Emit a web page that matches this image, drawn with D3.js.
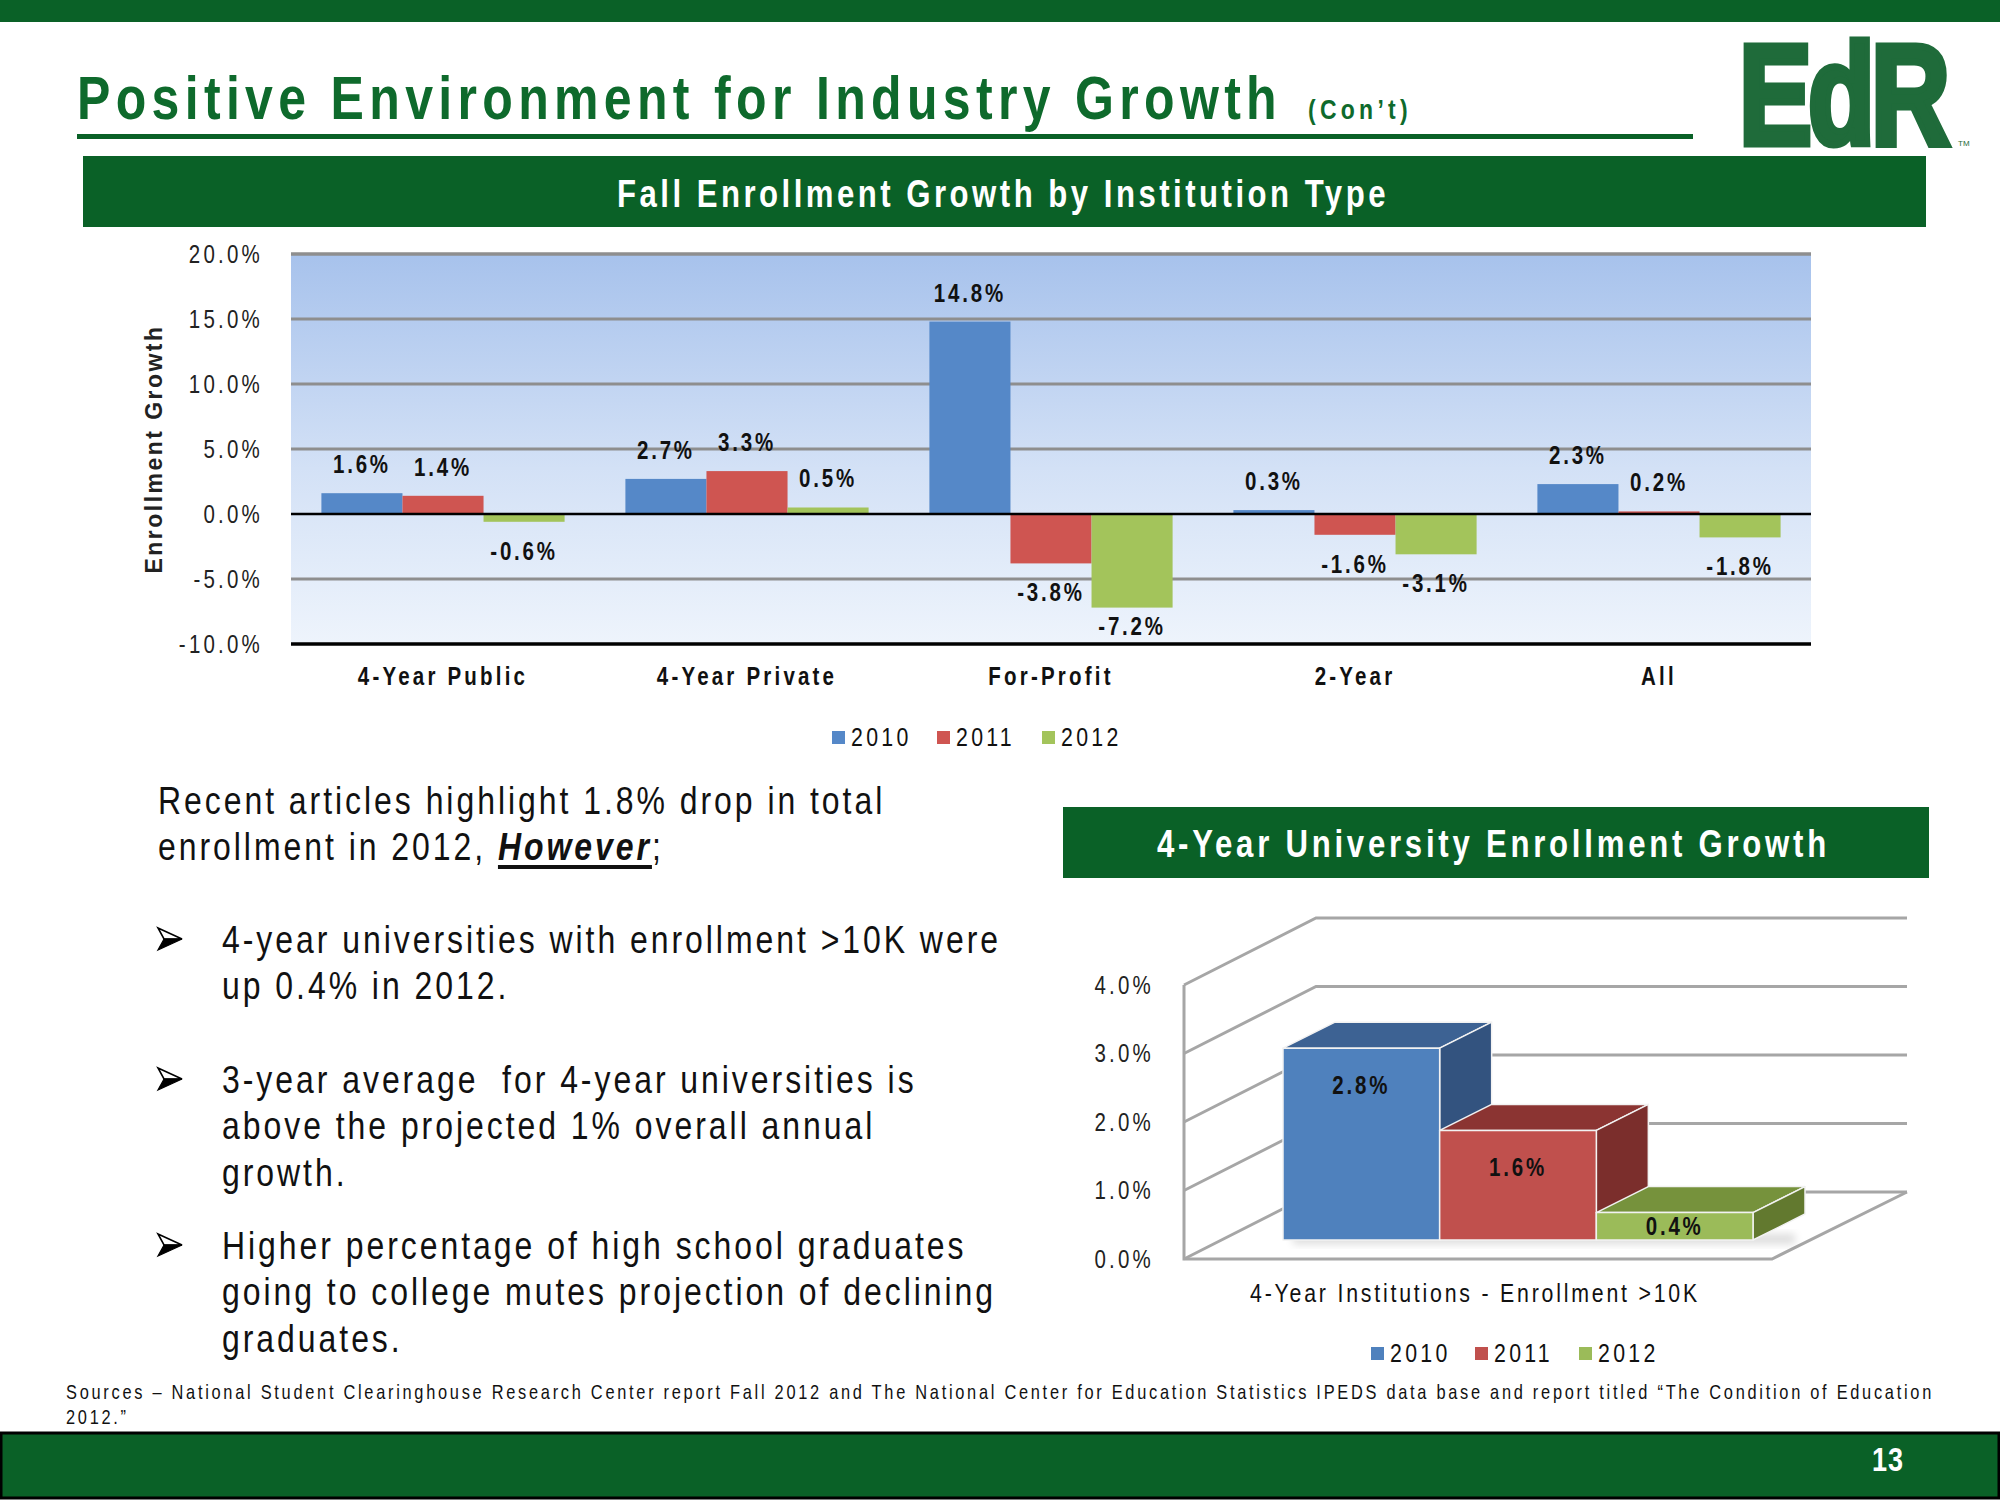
<!DOCTYPE html>
<html><head><meta charset="utf-8">
<script src="https://cdn.jsdelivr.net/npm/d3@7"></script>
<style>
body{margin:0;background:#fff;}
svg{display:block;}
text{white-space:pre;}
</style></head><body>
<svg id="c" width="2000" height="1500"></svg>
<script>
// ---------- data ----------
const categories = ["4-Year Public","4-Year Private","For-Profit","2-Year","All"];
const years = ["2010","2011","2012"];
const growth2010 = [1.6, 2.7, 14.8, 0.3, 2.3];
const growth2011 = [1.4, 3.3, -3.8, -1.6, 0.2];
const growth2012 = [-0.6, 0.5, -7.2, -3.1, -1.8];
const yTicks1 = [20, 15, 10, 5, 0, -5, -10];
const univCategory = "4-Year Institutions - Enrollment >10K";
const univGrowth = [2.8, 1.6, 0.4];
const yTicks2 = [0, 1, 2, 3, 4];

// ---------- styles ----------
const FF = '"Liberation Sans",Arial,Helvetica,sans-serif';
const NS = 0.82;               // horizontal condensation (narrow face)
const GREEN = "#0a6127";
const colors = ["#5588c8", "#cf5551", "#a3c45b"];
const col3d = [
  {front:"#4f81bd", top:"#3d6293", side:"#33537f"},
  {front:"#c0504d", top:"#8b3432", side:"#7b2e2c"},
  {front:"#9bbb59", top:"#76923c", side:"#62792f"}
];

const svg = d3.select("#c");
const fmt = d => d.toFixed(1) + "%";

function ntext(parent, x, y, s, size, opts = {}){
  const t = parent.append("text").attr("x", x / NS).attr("y", y)
    .attr("transform", `scale(${NS},1)`).text(s)
    .attr("font-family", FF).attr("font-size", size)
    .attr("font-weight", opts.weight || "normal")
    .attr("fill", opts.fill || "#111")
    .attr("text-anchor", opts.anchor || "start")
    .attr("letter-spacing", (opts.ls || 0) / NS);
  return t;
}
function fitN(sel, W){
  sel.attr("letter-spacing", 0);
  const node = sel.node();
  const n = node.getNumberOfChars();
  const w = node.getComputedTextLength();
  const lsLocal = (W / NS - w) / n;
  sel.attr("letter-spacing", lsLocal);
  return lsLocal * NS;
}
function condenseAxisText(sel, ls){
  sel.each(function(){
    const t = d3.select(this);
    const x = +t.attr("x") || 0;
    t.attr("x", x / NS).attr("transform", `scale(${NS},1)`).attr("letter-spacing", ls / NS);
  });
}

// ---------- header ----------
svg.append("rect").attr("x",0).attr("y",0).attr("width",2000).attr("height",22).attr("fill",GREEN);
fitN(ntext(svg, 77, 119, "Positive Environment for Industry Growth", 61, {weight:"bold", fill:"#0e6a2c"}), 1205);
fitN(ntext(svg, 1308, 119, "(Con\u2019t)", 28, {weight:"bold", fill:"#0e6a2c"}), 104);
svg.append("rect").attr("x",77).attr("y",134).attr("width",1616).attr("height",5).attr("fill",GREEN);
svg.append("text").attr("transform","translate(1739,144) scale(0.77,1)").text("EdR")
  .attr("font-family", FF).attr("font-weight","bold").attr("font-size",142).attr("letter-spacing",-5)
  .attr("fill","#1f6b3a").attr("stroke","#1f6b3a").attr("stroke-width",7).attr("stroke-linejoin","miter");
svg.append("text").attr("x",1958).attr("y",146).text("TM")
  .attr("font-family",FF).attr("font-size",8).attr("fill","#1f6b3a");

// ---------- chart 1 ----------
svg.append("rect").attr("x",83).attr("y",156).attr("width",1843).attr("height",71).attr("fill",GREEN);
fitN(ntext(svg, 617, 207, "Fall Enrollment Growth by Institution Type", 38, {weight:"bold", fill:"#fff"}), 772);

const x0 = d3.scaleBand().domain(categories).range([291, 1811]).paddingInner(0.2).paddingOuter(0.1);
const x1 = d3.scaleBand().domain(years).range([0, x0.bandwidth()]);
const y1 = d3.scaleLinear().domain([-10, 20]).range([644, 254]);

const defs = svg.append("defs");
const g1 = defs.append("linearGradient").attr("id","bg1").attr("x1",0).attr("y1",0).attr("x2",0).attr("y2",1);
g1.append("stop").attr("offset","0%").attr("stop-color","#a7c2ec");
g1.append("stop").attr("offset","55%").attr("stop-color","#d3e1f6");
g1.append("stop").attr("offset","100%").attr("stop-color","#eef4fc");
svg.append("rect").attr("x",291).attr("y",y1(20)).attr("width",1520).attr("height",y1(-10)-y1(20)).attr("fill","url(#bg1)");

svg.append("g").selectAll("line").data(yTicks1.filter(d => d !== 0 && d !== -10)).join("line")
  .attr("x1",291).attr("x2",1811).attr("y1",d=>y1(d)).attr("y2",d=>y1(d))
  .attr("stroke","#8e8e8e").attr("stroke-width",3);

const ya = svg.append("g").attr("transform","translate(291,0)")
  .call(d3.axisLeft(y1).tickValues(yTicks1).tickFormat(fmt).tickSize(0).tickPadding(28));
ya.select(".domain").remove();
ya.selectAll("text").attr("font-family",FF).attr("font-size",25).attr("fill","#222");
condenseAxisText(ya.selectAll("text"), 3.2);

const at = svg.append("text").attr("transform","translate(162,449) rotate(-90)")
  .attr("text-anchor","start").text("Enrollment Growth")
  .attr("font-family",FF).attr("font-weight","bold").attr("font-size",23).attr("fill","#222");
{
  const n = at.node(); const w = n.getComputedTextLength();
  at.attr("letter-spacing", (249 - w) / n.getNumberOfChars()).attr("x", -124.5);
}

const series = [growth2010, growth2011, growth2012];
series.forEach((vals, si) => {
  svg.append("g").selectAll("rect").data(vals).join("rect")
    .attr("x", (d,i) => x0(categories[i]) + x1(years[si]))
    .attr("width", x1.bandwidth())
    .attr("y", d => y1(Math.max(0,d)))
    .attr("height", d => Math.abs(y1(d) - y1(0)))
    .attr("fill", colors[si]);
});
svg.append("line").attr("x1",291).attr("x2",1811).attr("y1",y1(0)).attr("y2",y1(0)).attr("stroke","#000").attr("stroke-width",2.5);
svg.append("line").attr("x1",291).attr("x2",1811).attr("y1",y1(-10)).attr("y2",y1(-10)).attr("stroke","#000").attr("stroke-width",3.5);
svg.append("line").attr("x1",291).attr("x2",1811).attr("y1",y1(20)).attr("y2",y1(20)).attr("stroke","#8e8e8e").attr("stroke-width",3);

series.forEach((vals, si) => {
  const g = svg.append("g");
  vals.forEach((d, i) => {
    const cx = x0(categories[i]) + x1(years[si]) + x1.bandwidth()/2;
    let cy = d >= 0 ? y1(d) - 29 : Math.min(y1(d) + 29, y1(-10) - 18);
    ntext(g, cx, cy + 9, fmt(d), 25, {weight:"bold", anchor:"middle", ls:2.8});
  });
});

const xa = svg.append("g").attr("transform",`translate(0,${y1(-10)})`)
  .call(d3.axisBottom(x0).tickSize(0).tickPadding(23));
xa.select(".domain").remove();
xa.selectAll("text").attr("font-family",FF).attr("font-weight","bold").attr("font-size",25).attr("fill","#111");
condenseAxisText(xa.selectAll("text"), 3.2);

const lg1 = svg.append("g");
years.forEach((yr, i) => {
  const lx = 832 + i*105;
  lg1.append("rect").attr("x",lx).attr("y",731).attr("width",13).attr("height",13).attr("fill",colors[i]);
  ntext(lg1, lx+19, 746, yr, 26, {fill:"#111", ls:3.3});
});

// ---------- body text ----------
const BS = 39;
const probe = ntext(svg, 222, 953, "4-year universities with enrollment >10K were", BS);
const BLS = fitN(probe, 779);
ntext(svg, 158, 814, "Recent articles highlight 1.8% drop in total", BS, {ls:BLS});
const l2 = ntext(svg, 158, 860, "enrollment in 2012, ", BS, {ls:BLS});
l2.append("tspan").attr("font-weight","bold").attr("font-style","italic").text("However");
l2.append("tspan").text(";");
{
  const n = l2.node();
  const s = n.getStartPositionOfChar(20).x * NS;
  const e = n.getEndPositionOfChar(26).x * NS;
  svg.append("rect").attr("x",s).attr("y",865).attr("width",e-s).attr("height",4).attr("fill","#111");
}
const bullets = [
  ["4-year universities with enrollment >10K were", "up 0.4% in 2012."],
  ["3-year average  for 4-year universities is", "above the projected 1% overall annual", "growth."],
  ["Higher percentage of high school graduates", "going to college mutes projection of declining", "graduates."]
];
const bulletY = [953, 1093, 1259];
bullets.forEach((lines, bi) => {
  const by = bulletY[bi];
  const ag = svg.append("g").attr("transform",`translate(158,${by-25})`);
  ag.append("path").attr("d","M0,0 L24,11 L6,11 Z").attr("fill","#fff").attr("stroke","#000").attr("stroke-width",1.6);
  ag.append("path").attr("d","M6,11 L24,11 L0,22 Z").attr("fill","#000").attr("stroke","#000").attr("stroke-width",1.2);
  lines.forEach((ln, li) => {
    if (bi === 0 && li === 0) return;
    ntext(svg, 222, by + li*46.5, ln, BS, {ls:BLS});
  });
});

// ---------- chart 2 (3D) ----------
svg.append("rect").attr("x",1063).attr("y",807).attr("width",866).attr("height",71).attr("fill",GREEN);
fitN(ntext(svg, 1157, 857, "4-Year University Enrollment Growth", 38, {weight:"bold", fill:"#fff"}), 673);

const ys = d3.scaleLinear().domain([0, 4]).range([1259, 985]);
const FX = 1184, DX = 132, DY = -67, BACKR = 1907, FLOORR = 1772;
const grid = svg.append("g").attr("fill","none").attr("stroke","#a6a6a6").attr("stroke-width",3);
yTicks2.forEach(t => {
  grid.append("path").attr("d", `M${FX},${ys(t)} L${FX+DX},${ys(t)+DY} L${BACKR},${ys(t)+DY}`);
});
grid.append("path").attr("d", `M${FX},${ys(4)} L${FX},${ys(0)} L${FLOORR},${ys(0)} L${BACKR},${ys(0)+DY}`);

const ya2 = svg.append("g").attr("transform",`translate(${FX},0)`)
  .call(d3.axisLeft(ys).tickValues(yTicks2).tickFormat(fmt).tickSize(0).tickPadding(30));
ya2.select(".domain").remove();
ya2.selectAll("text").attr("font-family",FF).attr("font-size",25).attr("fill","#222");
condenseAxisText(ya2.selectAll("text"), 3.2);

const xb = d3.scaleBand().domain(years).range([1283, 1753]);
const SB = -19, BDX = 52, BDY = -26;
const sh = defs.append("filter").attr("id","sh").attr("x","-20%").attr("y","-50%").attr("width","140%").attr("height","200%");
sh.append("feGaussianBlur").attr("stdDeviation",4);
svg.append("rect").attr("x",xb(years[0])+10).attr("y",ys(0)+SB-6).attr("width",xb.bandwidth()*3+BDX-20).attr("height",10)
  .attr("fill","#000").attr("opacity",0.14).attr("filter","url(#sh)");
univGrowth.forEach((v, i) => {
  const x = xb(years[i]), w = xb.bandwidth();
  const top = ys(v) + SB, bot = ys(0) + SB;
  const g = svg.append("g").attr("stroke","#f2f2f2").attr("stroke-width",1.5).attr("stroke-linejoin","round");
  g.append("path").attr("d",`M${x},${top} L${x+w},${top} L${x+w+BDX},${top+BDY} L${x+BDX},${top+BDY} Z`).attr("fill",col3d[i].top);
  g.append("path").attr("d",`M${x+w},${top} L${x+w+BDX},${top+BDY} L${x+w+BDX},${bot+BDY} L${x+w},${bot} Z`).attr("fill",col3d[i].side);
  g.append("rect").attr("x",x).attr("y",top).attr("width",w).attr("height",bot-top).attr("fill",col3d[i].front);
  const ly = Math.min(top + 37, (top + bot) / 2);
  ntext(svg, x + w/2, ly + 9, fmt(v), 25, {weight:"bold", anchor:"middle", ls:2.8});
});

fitN(ntext(svg, 1250, 1302, univCategory, 26, {fill:"#111"}), 450);

const lg2 = svg.append("g");
years.forEach((yr, i) => {
  const lx = 1371 + i*104;
  lg2.append("rect").attr("x",lx).attr("y",1347).attr("width",13).attr("height",13).attr("fill",col3d[i].front);
  ntext(lg2, lx+19, 1362, yr, 26, {fill:"#111", ls:3.3});
});

// ---------- footer ----------
const src = ntext(svg, 66, 1399, "Sources \u2013 National Student Clearinghouse Research Center report Fall 2012 and The National Center for Education Statistics IPEDS data base and report titled \u201CThe Condition of Education", 20, {fill:"#111"});
const sls = fitN(src, 1868);
ntext(svg, 66, 1424, "2012.\u201D", 20, {fill:"#111", ls:sls});
svg.append("rect").attr("x",1).attr("y",1433).attr("width",1998).attr("height",65).attr("fill",GREEN).attr("stroke","#000").attr("stroke-width",3);
ntext(svg, 1888, 1471, "13", 33, {anchor:"middle", weight:"bold", fill:"#fff", ls:1});
</script>
</body></html>
